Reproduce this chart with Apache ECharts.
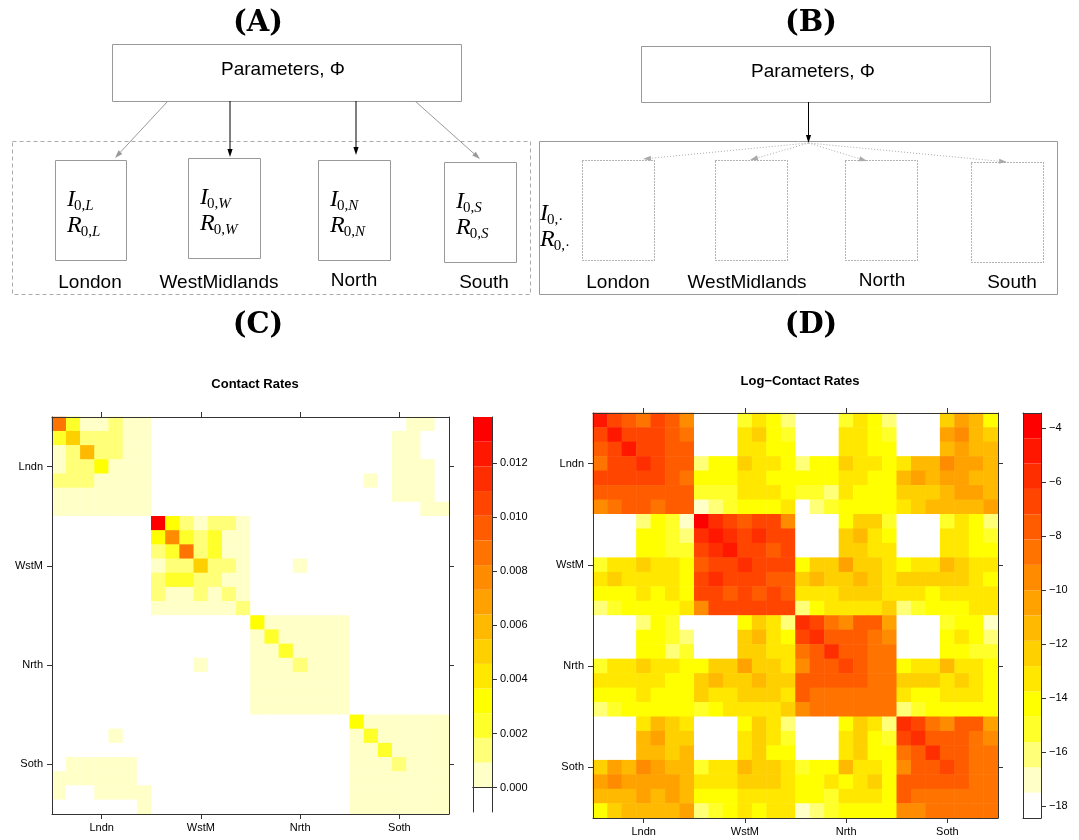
<!DOCTYPE html>
<html><head><meta charset="utf-8">
<script src="https://cdn.jsdelivr.net/npm/echarts@6/dist/echarts.min.js"></script>
<style>html,body{margin:0;padding:0;background:#fff}#chart{width:1079px;height:840px}</style>
</head><body><div id="chart"></div><script>
// ---------------- data ----------------
const regionNames = ['London', 'WestMidlands', 'North', 'South'];
const regionSubs = ['L', 'W', 'N', 'S'];
const regionCodes = ['Lndn', 'WstM', 'Nrth', 'Soth'];
const ageGroups = [1, 2, 3, 4, 5, 6, 7];
const contactTicks = [0, 0.002, 0.004, 0.006, 0.008, 0.010, 0.012];
const logTicks = [-18, -16, -14, -12, -10, -8, -6, -4];
const contactRange = [-0.0009, 0.0137];
const logRange = [-18.43, -3.445];

const contactRates = [
[.0087,.0023,.0005,.0005,.0014,.0005,.0005,0,0,0,0,0,0,0,0,0,0,0,0,0,0,0,0,0,0,.0005,.0005,0],
[.0023,.005,.0014,.0014,.0014,.0005,.0005,0,0,0,0,0,0,0,0,0,0,0,0,0,0,0,0,0,.0005,.0005,0,0],
[.0005,.0014,.0059,.0014,.0014,.0005,.0005,0,0,0,0,0,0,0,0,0,0,0,0,0,0,0,0,0,.0005,.0005,0,0],
[.0005,.0014,.0014,.0032,.0005,.0005,.0005,0,0,0,0,0,0,0,0,0,0,0,0,0,0,0,0,0,.0005,.0005,.0005,0],
[.0014,.0014,.0014,.0005,.0005,.0005,.0005,0,0,0,0,0,0,0,0,0,0,0,0,0,0,0,.0005,0,.0005,.0005,.0005,0],
[.0005,.0005,.0005,.0005,.0005,.0005,.0005,0,0,0,0,0,0,0,0,0,0,0,0,0,0,0,0,0,.0005,.0005,.0005,0],
[.0005,.0005,.0005,.0005,.0005,.0005,.0005,0,0,0,0,0,0,0,0,0,0,0,0,0,0,0,0,0,0,0,.0005,.0005],
[0,0,0,0,0,0,0,.0132,.0032,.0014,.0005,.0014,.0014,.0005,0,0,0,0,0,0,0,0,0,0,0,0,0,0],
[0,0,0,0,0,0,0,.0032,.0078,.0023,.0014,.0023,.0005,.0005,0,0,0,0,0,0,0,0,0,0,0,0,0,0],
[0,0,0,0,0,0,0,.0014,.0023,.0087,.0014,.0023,.0005,.0005,0,0,0,0,0,0,0,0,0,0,0,0,0,0],
[0,0,0,0,0,0,0,.0005,.0014,.0014,.005,.0014,.0014,.0005,0,0,0,.0005,0,0,0,0,0,0,0,0,0,0],
[0,0,0,0,0,0,0,.0014,.0023,.0023,.0014,.0014,.0005,.0005,0,0,0,0,0,0,0,0,0,0,0,0,0,0],
[0,0,0,0,0,0,0,.0014,.0005,.0005,.0014,.0005,.0014,.0005,0,0,0,0,0,0,0,0,0,0,0,0,0,0],
[0,0,0,0,0,0,0,.0005,.0005,.0005,.0005,.0005,.0005,.0014,0,0,0,0,0,0,0,0,0,0,0,0,0,0],
[0,0,0,0,0,0,0,0,0,0,0,0,0,0,.0032,.0005,.0005,.0005,.0005,.0005,.0005,0,0,0,0,0,0,0],
[0,0,0,0,0,0,0,0,0,0,0,0,0,0,.0005,.0023,.0005,.0005,.0005,.0005,.0005,0,0,0,0,0,0,0],
[0,0,0,0,0,0,0,0,0,0,0,0,0,0,.0005,.0005,.0023,.0005,.0005,.0005,.0005,0,0,0,0,0,0,0],
[0,0,0,0,0,0,0,0,0,0,.0005,0,0,0,.0005,.0005,.0005,.0014,.0005,.0005,.0005,0,0,0,0,0,0,0],
[0,0,0,0,0,0,0,0,0,0,0,0,0,0,.0005,.0005,.0005,.0005,.0005,.0005,.0005,0,0,0,0,0,0,0],
[0,0,0,0,0,0,0,0,0,0,0,0,0,0,.0005,.0005,.0005,.0005,.0005,.0005,.0005,0,0,0,0,0,0,0],
[0,0,0,0,0,0,0,0,0,0,0,0,0,0,.0005,.0005,.0005,.0005,.0005,.0005,.0005,0,0,0,0,0,0,0],
[0,0,0,0,0,0,0,0,0,0,0,0,0,0,0,0,0,0,0,0,0,.0032,.0005,.0005,.0005,.0005,.0005,.0005],
[0,0,0,0,.0005,0,0,0,0,0,0,0,0,0,0,0,0,0,0,0,0,.0005,.0023,.0005,.0005,.0005,.0005,.0005],
[0,0,0,0,0,0,0,0,0,0,0,0,0,0,0,0,0,0,0,0,0,.0005,.0005,.0023,.0005,.0005,.0005,.0005],
[0,.0005,.0005,.0005,.0005,.0005,0,0,0,0,0,0,0,0,0,0,0,0,0,0,0,.0005,.0005,.0005,.0014,.0005,.0005,.0005],
[.0005,.0005,.0005,.0005,.0005,.0005,0,0,0,0,0,0,0,0,0,0,0,0,0,0,0,.0005,.0005,.0005,.0005,.0005,.0005,.0005],
[.0005,0,0,.0005,.0005,.0005,.0005,0,0,0,0,0,0,0,0,0,0,0,0,0,0,.0005,.0005,.0005,.0005,.0005,.0005,.0005],
[0,0,0,0,0,0,.0005,0,0,0,0,0,0,0,0,0,0,0,0,0,0,.0005,.0005,.0005,.0005,.0005,.0005,.0005]
];

const logContactRates = [
[-4.9,-6.7,-7.7,-8.6,-6.7,-7.7,-9.5,-18,-18,-18,-15.2,-13.3,-14.2,-16.1,-18,-18,-18,-15.2,-13.3,-14.2,-16.1,-18,-18,-18,-12.3,-10.5,-11.4,-14.2],
[-6.7,-4.9,-6.7,-6.7,-6.7,-7.7,-8.6,-18,-18,-18,-13.3,-12.3,-14.2,-15.2,-18,-18,-18,-13.3,-13.3,-14.2,-15.2,-18,-18,-18,-10.5,-9.5,-11.4,-12.3],
[-7.7,-6.7,-4.9,-6.7,-6.7,-7.7,-7.7,-18,-18,-18,-13.3,-13.3,-14.2,-14.2,-18,-18,-18,-13.3,-13.3,-14.2,-14.2,-18,-18,-18,-11.4,-10.5,-11.4,-11.4],
[-8.6,-6.7,-6.7,-5.8,-6.7,-7.7,-7.7,-16.1,-14.2,-14.2,-12.3,-13.3,-13.3,-14.2,-16.1,-14.2,-14.2,-12.3,-13.3,-13.3,-14.2,-13.3,-11.4,-11.4,-9.5,-10.5,-10.5,-11.4],
[-6.7,-6.7,-6.7,-6.7,-6.7,-7.7,-8.6,-14.2,-14.2,-14.2,-13.3,-13.3,-14.2,-14.2,-14.2,-14.2,-14.2,-13.3,-13.3,-14.2,-14.2,-11.4,-10.5,-11.4,-10.5,-10.5,-11.4,-11.4],
[-7.7,-7.7,-7.7,-7.7,-7.7,-7.7,-7.7,-15.2,-15.2,-15.2,-13.3,-13.3,-13.3,-14.2,-15.2,-15.2,-16.1,-13.3,-14.2,-14.2,-14.2,-12.3,-12.3,-12.3,-11.4,-10.5,-10.5,-11.4],
[-9.5,-8.6,-7.7,-7.7,-8.6,-7.7,-7.7,-17,-16.1,-15.2,-14.2,-14.2,-14.2,-13.3,-18,-16.1,-15.2,-14.2,-14.2,-14.2,-14.2,-13.3,-12.3,-11.4,-11.4,-11.4,-11.4,-10.5],
[-18,-18,-18,-16.1,-14.2,-15.2,-17,-3.9,-5.8,-6.7,-7.7,-6.7,-6.7,-9.5,-18,-18,-18,-14.2,-12.3,-12.3,-15.2,-18,-18,-18,-15.2,-13.3,-14.2,-16.1],
[-18,-18,-18,-14.2,-14.2,-15.2,-16.1,-5.8,-4.9,-5.8,-6.7,-5.8,-6.7,-6.7,-18,-18,-18,-12.3,-11.4,-13.3,-14.2,-18,-18,-18,-13.3,-13.3,-14.2,-15.2],
[-18,-18,-18,-14.2,-14.2,-15.2,-15.2,-6.7,-5.8,-4.9,-6.7,-6.7,-7.7,-6.7,-18,-18,-18,-12.3,-12.3,-13.3,-13.3,-18,-18,-18,-13.3,-13.3,-14.2,-14.2],
[-15.2,-13.3,-13.3,-12.3,-13.3,-13.3,-14.2,-7.7,-6.7,-6.7,-5.8,-6.7,-6.7,-6.7,-14.2,-12.3,-12.3,-10.5,-12.3,-12.3,-13.3,-14.2,-13.3,-13.3,-11.4,-12.3,-13.3,-13.3],
[-13.3,-12.3,-13.3,-13.3,-13.3,-13.3,-14.2,-6.7,-5.8,-6.7,-6.7,-6.7,-7.7,-7.7,-12.3,-11.4,-12.3,-12.3,-11.4,-12.3,-13.3,-12.3,-12.3,-12.3,-12.3,-12.3,-13.3,-14.2],
[-14.2,-14.2,-14.2,-13.3,-14.2,-13.3,-14.2,-6.7,-6.7,-7.7,-6.7,-7.7,-6.7,-7.7,-13.3,-13.3,-13.3,-12.3,-12.3,-12.3,-13.3,-13.3,-13.3,-14.2,-13.3,-13.3,-13.3,-13.3],
[-16.1,-15.2,-14.2,-14.2,-14.2,-14.2,-13.3,-9.5,-6.7,-6.7,-6.7,-6.7,-6.7,-6.7,-16.1,-14.2,-13.3,-13.3,-13.3,-13.3,-12.3,-16.1,-15.2,-14.2,-14.2,-14.2,-13.3,-13.3],
[-18,-18,-18,-16.1,-14.2,-15.2,-18,-18,-18,-18,-14.2,-12.3,-13.3,-16.1,-5.8,-6.7,-8.6,-9.5,-7.7,-7.7,-10.5,-18,-18,-18,-15.2,-14.2,-14.2,-17],
[-18,-18,-18,-14.2,-14.2,-15.2,-16.1,-18,-18,-18,-12.3,-11.4,-13.3,-14.2,-6.7,-5.8,-7.7,-7.7,-7.7,-8.6,-9.5,-18,-18,-18,-14.2,-13.3,-14.2,-16.1],
[-18,-18,-18,-14.2,-14.2,-16.1,-15.2,-18,-18,-18,-12.3,-12.3,-13.3,-13.3,-8.6,-7.7,-5.8,-7.7,-7.7,-8.6,-8.6,-18,-18,-18,-14.2,-14.2,-15.2,-15.2],
[-15.2,-13.3,-13.3,-12.3,-13.3,-13.3,-14.2,-14.2,-12.3,-12.3,-10.5,-12.3,-12.3,-13.3,-9.5,-7.7,-7.7,-6.7,-7.7,-8.6,-8.6,-14.2,-13.3,-13.3,-11.4,-13.3,-13.3,-14.2],
[-13.3,-13.3,-13.3,-13.3,-13.3,-14.2,-14.2,-12.3,-11.4,-12.3,-12.3,-11.4,-12.3,-12.3,-7.7,-7.7,-7.7,-7.7,-7.7,-8.6,-8.6,-12.3,-12.3,-12.3,-13.3,-12.3,-13.3,-14.2],
[-14.2,-14.2,-14.2,-13.3,-14.2,-14.2,-14.2,-12.3,-13.3,-13.3,-12.3,-12.3,-12.3,-13.3,-7.7,-8.6,-8.6,-8.6,-8.6,-8.6,-8.6,-13.3,-14.2,-14.2,-13.3,-13.3,-13.3,-14.2],
[-16.1,-15.2,-14.2,-14.2,-14.2,-14.2,-14.2,-15.2,-14.2,-13.3,-13.3,-13.3,-13.3,-12.3,-9.5,-8.6,-8.6,-8.6,-8.6,-8.6,-8.6,-16.1,-15.2,-14.2,-14.2,-14.2,-14.2,-14.2],
[-18,-18,-18,-13.3,-11.4,-12.3,-13.3,-18,-18,-18,-14.2,-12.3,-13.3,-16.1,-18,-18,-18,-14.2,-12.3,-13.3,-16.1,-5.8,-6.7,-8.6,-9.5,-7.7,-7.7,-10.5],
[-18,-18,-18,-11.4,-10.5,-12.3,-12.3,-18,-18,-18,-13.3,-12.3,-13.3,-15.2,-18,-18,-18,-13.3,-12.3,-14.2,-15.2,-6.7,-5.8,-7.7,-7.7,-7.7,-8.6,-9.5],
[-18,-18,-18,-11.4,-11.4,-12.3,-11.4,-18,-18,-18,-13.3,-12.3,-14.2,-14.2,-18,-18,-18,-13.3,-12.3,-14.2,-14.2,-8.6,-7.7,-5.8,-7.7,-7.7,-8.6,-8.6],
[-12.3,-10.5,-11.4,-9.5,-10.5,-11.4,-11.4,-15.2,-13.3,-13.3,-11.4,-12.3,-12.3,-13.3,-15.2,-14.2,-14.2,-11.4,-13.3,-13.3,-14.2,-9.5,-7.7,-7.7,-6.7,-7.7,-8.6,-8.6],
[-10.5,-9.5,-10.5,-10.5,-10.5,-10.5,-11.4,-13.3,-13.3,-13.3,-12.3,-12.3,-12.3,-13.3,-14.2,-14.2,-13.3,-14.2,-13.3,-12.3,-14.2,-7.7,-7.7,-7.7,-7.7,-7.7,-8.6,-8.6],
[-11.4,-11.4,-11.4,-10.5,-11.4,-10.5,-11.4,-14.2,-14.2,-14.2,-13.3,-13.3,-13.3,-13.3,-14.2,-14.2,-15.2,-13.3,-13.3,-13.3,-14.2,-7.7,-8.6,-8.6,-8.6,-8.6,-8.6,-8.6],
[-14.2,-12.3,-11.4,-11.4,-11.4,-11.4,-10.5,-16.1,-15.2,-14.2,-13.3,-14.2,-13.3,-13.3,-17,-16.1,-15.2,-14.2,-14.2,-14.2,-14.2,-9.5,-9.5,-8.6,-8.6,-8.6,-8.6,-8.6]
];

// ---------------- styling / scales ----------------
const palette = ['#FFFFFF','#FFFFC8','#FFFF78','#FFFF2A','#FFFF00','#FFE700','#FFD000','#FFB900',
                 '#FFA200','#FF8B00','#FF7300','#FF5C00','#FF4500','#FF2E00','#FF1700','#FF0000'];
const SANS = '"Liberation Sans", Arial, sans-serif';
const SERIF = '"Liberation Serif", serif';

function bands(range) {
  const n = palette.length, w = (range[1] - range[0]) / n;
  return palette.map((c, k) => ({ lo: range[0] + k * w, hi: range[0] + (k + 1) * w, color: c }));
}
function pieces(range) {
  const b = bands(range), n = b.length;
  return b.map((x, k) => {
    const p = { color: x.color };
    if (k > 0) p.gte = x.lo;
    if (k < n - 1) p.lt = x.hi;
    return p;
  });
}
const cats = [];
regionCodes.forEach(r => ageGroups.forEach(a => cats.push(r + '_' + a)));
const toCells = m => m.flatMap((row, i) => row.map((v, j) => [j, i, v]));

const tickInt = (i) => i % ageGroups.length === Math.floor(ageGroups.length / 2);
const AX = '#333';
function catAxis(gi, pos, showLabel, extra) {
  return Object.assign({
    type: 'category', data: cats, gridIndex: gi, position: pos, z: 10,
    axisLine: { show: true, lineStyle: { color: AX, width: 1 } },
    axisTick: { show: true, alignWithLabel: true, interval: tickInt, length: 5, lineStyle: { color: AX } },
    axisLabel: showLabel ? {
      interval: tickInt, formatter: (v, i) => regionCodes[Math.floor(i / ageGroups.length)],
      fontSize: 11, color: '#000', fontFamily: SANS, margin: (pos === 'left' ? 9 : 8)
    } : { show: false },
    splitLine: { show: false }
  }, extra || {});
}
function cbX(gi, pos) {
  return { type: 'category', data: [''], gridIndex: gi, position: pos, z: 10,
    axisLine: { show: true, lineStyle: { color: AX } }, axisTick: { show: false }, axisLabel: { show: false } };
}
function cbY(gi, pos, range, ticks, fmt) {
  const lab = pos === 'right';
  return { type: 'value', gridIndex: gi, position: pos, min: range[0], max: range[1], z: 10,
    axisLine: { show: true, lineStyle: { color: AX } },
    axisTick: lab ? { show: true, customValues: ticks, length: 5, lineStyle: { color: AX } } : { show: false },
    axisLabel: lab ? { show: true, customValues: ticks, formatter: fmt, fontSize: 11, color: '#000', fontFamily: SANS, margin: 8 } : { show: false },
    splitLine: { show: false } };
}
function colorbarSeries(xi, yi, range) {
  return {
    type: 'custom', xAxisIndex: xi, yAxisIndex: yi, silent: true,
    data: bands(range).map((b, k) => [0, b.lo, b.hi, k]),
    renderItem: (params, api) => {
      const p0 = api.coord([0, api.value(1)]), p1 = api.coord([0, api.value(2)]);
      const w = api.size([1, 0])[0];
      return { type: 'rect', shape: { x: p0[0] - w / 2, y: p1[1], width: w, height: p0[1] - p1[1] },
               style: { fill: palette[api.value(3)] } };
    }
  };
}

// ---------------- diagram panels (A) and (B) ----------------
const G = [];
const mctx = document.createElement('canvas').getContext('2d');
function tw(s, f) { mctx.font = f; return mctx.measureText(s).width; }
function rect(x, y, w, h, stroke, dash) {
  G.push({ type: 'rect', silent: true, shape: { x: x + 0.5, y: y + 0.5, width: w, height: h },
    style: { fill: 'none', stroke: stroke, lineWidth: 1, lineDash: dash || null } });
}
function text(x, y, s, font, align) {
  G.push({ type: 'text', silent: true, x: x, y: y,
    style: { text: s, font: font, fill: '#000', align: align || 'center', verticalAlign: 'middle',
             textAlign: align || 'center', textVerticalAlign: 'middle' } });
}
function arrow(x1, y1, x2, y2, color, dash, width) {
  const a = Math.atan2(y2 - y1, x2 - x1), L = 8, W = 2.6;
  const bx = x2 - L * Math.cos(a), by = y2 - L * Math.sin(a);
  const px = -Math.sin(a) * W, py = Math.cos(a) * W;
  G.push({ type: 'line', silent: true, shape: { x1: x1, y1: y1, x2: bx, y2: by },
    style: { stroke: color, lineWidth: width || 1, lineDash: dash || null } });
  G.push({ type: 'polygon', silent: true, shape: { points: [[x2, y2], [bx + px, by + py], [bx - px, by - py]] },
    style: { fill: color } });
}
function math(x, y, letter, sub0, subIt) {
  const fM = 'italic 24px ' + SERIF, fS = '15px ' + SERIF, fSI = 'italic 15px ' + SERIF;
  text(x, y, letter, fM, 'left');
  let cx = x + tw(letter, fM) - 1;
  text(cx, y + 6, sub0, fS, 'left');
  cx += tw(sub0, fS);
  text(cx, y + 6, subIt, fSI, 'left');
}
const panelFont = 'bold 29px "DejaVu Serif", serif';
const labFont = '19px ' + SANS;

// Panel A
text(258, 23, '(A)', panelFont);
rect(112, 44, 349, 57, '#999');
text(283, 70, 'Parameters, \u03A6', labFont);
rect(12, 141, 518, 153, '#aaa', [4, 3]);
const boxesA = [[55, 160, 71, 100], [188, 158, 72, 100], [318, 160, 72, 100], [444, 162, 72, 100]];
const labelXA = [90, 219, 354, 484], labelYA = [283, 283, 281, 283];
const arrowsA = [[168, 101, 115, 158], [230, 101, 230, 157], [356, 101, 356, 155], [415, 101, 480, 159]];
const arrowColA = ['#999', '#000', '#000', '#999'];
boxesA.forEach((b, i) => {
  rect(b[0], b[1], b[2], b[3], '#999');
  math(b[0] + 12, b[1] + 40, 'I', '0,', regionSubs[i]);
  math(b[0] + 12, b[1] + 66, 'R', '0,', regionSubs[i]);
  text(labelXA[i], labelYA[i], regionNames[i], labFont);
  const a = arrowsA[i];
  arrow(a[0], a[1], a[2], a[3], arrowColA[i], null, 1);
});

// Panel B
text(811, 23, '(B)', panelFont);
rect(641, 46, 349, 56, '#999');
text(813, 72, 'Parameters, \u03A6', labFont);
rect(539, 141, 518, 153, '#999');
arrow(808.5, 102, 808.5, 143, '#000', null, 1);
const boxesB = [[582, 160, 72, 100], [715, 160, 72, 100], [845, 160, 72, 100], [971, 162, 72, 100]];
const labelXB = [618, 747, 882, 1012], labelYB = [283, 283, 281, 283];
const arrowEndsB = [[643, 159], [750, 160], [867, 161], [1007, 162]];
boxesB.forEach((b, i) => {
  rect(b[0], b[1], b[2], b[3], '#666', [1, 2]);
  text(labelXB[i], labelYB[i], regionNames[i], labFont);
  arrow(808.5, 143, arrowEndsB[i][0], arrowEndsB[i][1], '#aaa', [1, 2], 1);
});
math(540, 214, 'I', '0,\u00B7', '');
math(540, 240, 'R', '0,\u00B7', '');

text(258, 325, '(C)', panelFont);
text(811, 325, '(D)', panelFont);

// ---------------- chart ----------------
const chart = echarts.init(document.getElementById('chart'), null, { renderer: 'canvas' });
const fmtC = v => v.toFixed(3);
const fmtD = v => (v < 0 ? '\u2212' : '') + Math.abs(v);
chart.setOption({
  animation: false,
  backgroundColor: '#fff',
  title: [
    { text: 'Contact Rates', left: 250, top: 373, textAlign: 'center',
      textStyle: { fontSize: 13, fontWeight: 'bold', fontFamily: SANS, color: '#000' } },
    { text: 'Log\u2212Contact Rates', left: 795, top: 370, textAlign: 'center',
      textStyle: { fontSize: 13, fontWeight: 'bold', fontFamily: SANS, color: '#000' } }
  ],
  grid: [
    { left: 52, top: 417, width: 397, height: 397 },
    { left: 593, top: 413, width: 405, height: 405 },
    { left: 473, top: 417, width: 19, height: 395 },
    { left: 1023, top: 413, width: 18, height: 405 }
  ],
  xAxis: [
    catAxis(0, 'bottom', true), catAxis(0, 'top', false),
    catAxis(1, 'bottom', true), catAxis(1, 'top', false),
    cbX(2, 'bottom'), cbX(2, 'top'), cbX(3, 'bottom'), cbX(3, 'top')
  ],
  yAxis: [
    catAxis(0, 'left', true, { inverse: true }), catAxis(0, 'right', false, { inverse: true }),
    catAxis(1, 'left', true, { inverse: true }), catAxis(1, 'right', false, { inverse: true }),
    cbY(2, 'left', contactRange, contactTicks, fmtC), cbY(2, 'right', contactRange, contactTicks, fmtC),
    cbY(3, 'left', logRange, logTicks, fmtD), cbY(3, 'right', logRange, logTicks, fmtD)
  ],
  visualMap: [
    { type: 'piecewise', show: false, seriesIndex: 0, dimension: 2, pieces: pieces(contactRange) },
    { type: 'piecewise', show: false, seriesIndex: 1, dimension: 2, pieces: pieces(logRange) }
  ],
  series: [
    { type: 'heatmap', xAxisIndex: 0, yAxisIndex: 0, data: toCells(contactRates), silent: true,
      itemStyle: { borderWidth: 0 }, emphasis: { disabled: true } },
    { type: 'heatmap', xAxisIndex: 2, yAxisIndex: 2, data: toCells(logContactRates), silent: true,
      itemStyle: { borderWidth: 0 }, emphasis: { disabled: true } },
    colorbarSeries(4, 4, contactRange),
    colorbarSeries(6, 6, logRange)
  ],
  graphic: { elements: G }
});
</script></body></html>
